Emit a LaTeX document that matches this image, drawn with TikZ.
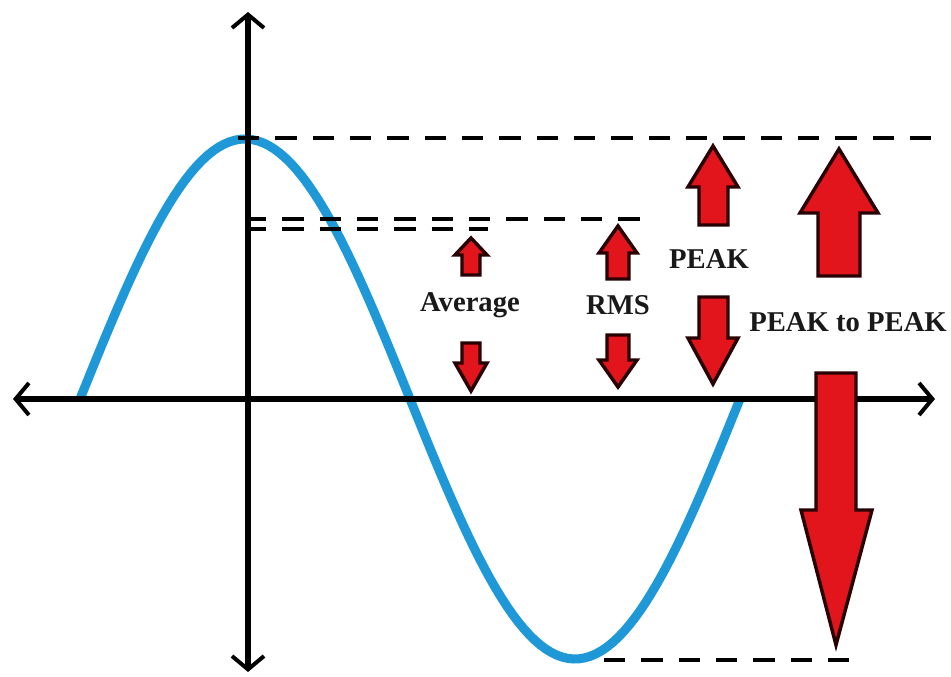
\documentclass[tikz,border=0pt]{standalone}
\usepackage{fontspec}
\setmainfont{Liberation Serif}
\usetikzlibrary{arrows.meta}
\definecolor{wave}{RGB}{30,152,214}
\definecolor{arrred}{RGB}{226,20,28}
\definecolor{arredge}{RGB}{40,2,2}
\definecolor{txt}{RGB}{25,25,25}
\tikzset{
  axis/.style={line width=3.8pt, black, {Straight Barb[length=10pt,width=24pt,line width=3pt]}-{Straight Barb[length=10pt,width=24pt,line width=3pt]}},
  dashline/.style={line width=3.6pt, black, dash pattern=on 16pt off 12pt},
  blk/.style={fill=arrred, draw=arredge, line width=2.6pt, line join=miter},
  lbl/.style={font=\bfseries\fontsize{21.5pt}{24pt}\selectfont, text=txt, inner sep=0pt}
}
\begin{document}
\begin{tikzpicture}[x=0.75pt,y=-0.75pt]
\useasboundingbox (0,0) rectangle (951,677);
\fill[white] (0,0) rectangle (951,677);
% sine wave
\draw[wave, line width=6.8pt] plot[domain=0:360, samples=120] ({80+\x*1.83333},{399-260*sin(\x)});
% axes
\coordinate (xl) at (13,399);
\coordinate (xr) at (935,399);
\coordinate (yt) at (248,12);
\coordinate (yb) at (248,672);
\draw[axis] (xl) -- (xr);
\draw[axis] (yb) -- (yt);
% dashed lines
\coordinate (d1a) at (238,138); \coordinate (d1b) at (932,138);
\coordinate (d2a) at (245,219); \coordinate (d2b) at (650,219);
\coordinate (d3a) at (245,229); \coordinate (d3b) at (488,229);
\coordinate (d4a) at (604,660); \coordinate (d4b) at (864,660);
\draw[dashline] (d1a) -- (d1b);
\draw[dashline] (d2a) -- (d2b);
\draw[dashline] (d3a) -- (d3b);
\draw[dashline] (d4a) -- (d4b);
% Average arrows
\draw[blk] (471,238) -- (487,255) -- (480,255) -- (480,275) -- (462,275) -- (462,255) -- (455,255) -- cycle;
\draw[blk] (471,391) -- (487,363) -- (480,363) -- (480,343) -- (462,343) -- (462,363) -- (455,363) -- cycle;
% RMS arrows
\draw[blk] (618,226) -- (637,253) -- (629,253) -- (629,279) -- (607,279) -- (607,253) -- (599,253) -- cycle;
\draw[blk] (618,387) -- (637,360) -- (629,360) -- (629,335) -- (607,335) -- (607,360) -- (599,360) -- cycle;
% PEAK arrows
\draw[blk] (713,146) -- (738,187) -- (728,187) -- (728,225) -- (699,225) -- (699,187) -- (688,187) -- cycle;
\draw[blk] (713,384) -- (738,338) -- (728,338) -- (728,297) -- (699,297) -- (699,338) -- (688,338) -- cycle;
% PEAK to PEAK arrows
\draw[blk] (839,149) -- (878,213) -- (860,213) -- (860,276) -- (818,276) -- (818,213) -- (800,213) -- cycle;
\draw[blk] (836,645) -- (872,510) -- (856,510) -- (856,373) -- (816,373) -- (816,510) -- (801,510) -- cycle;
% labels
\node[lbl] (avg) at (470,305) {Average};
\node[lbl] (rms) at (618,305) {RMS};
\node[lbl] (peak) at (709,259) {PEAK};
\node[lbl] (p2p) at (848,322) {PEAK to PEAK};
\end{tikzpicture}
\end{document}
